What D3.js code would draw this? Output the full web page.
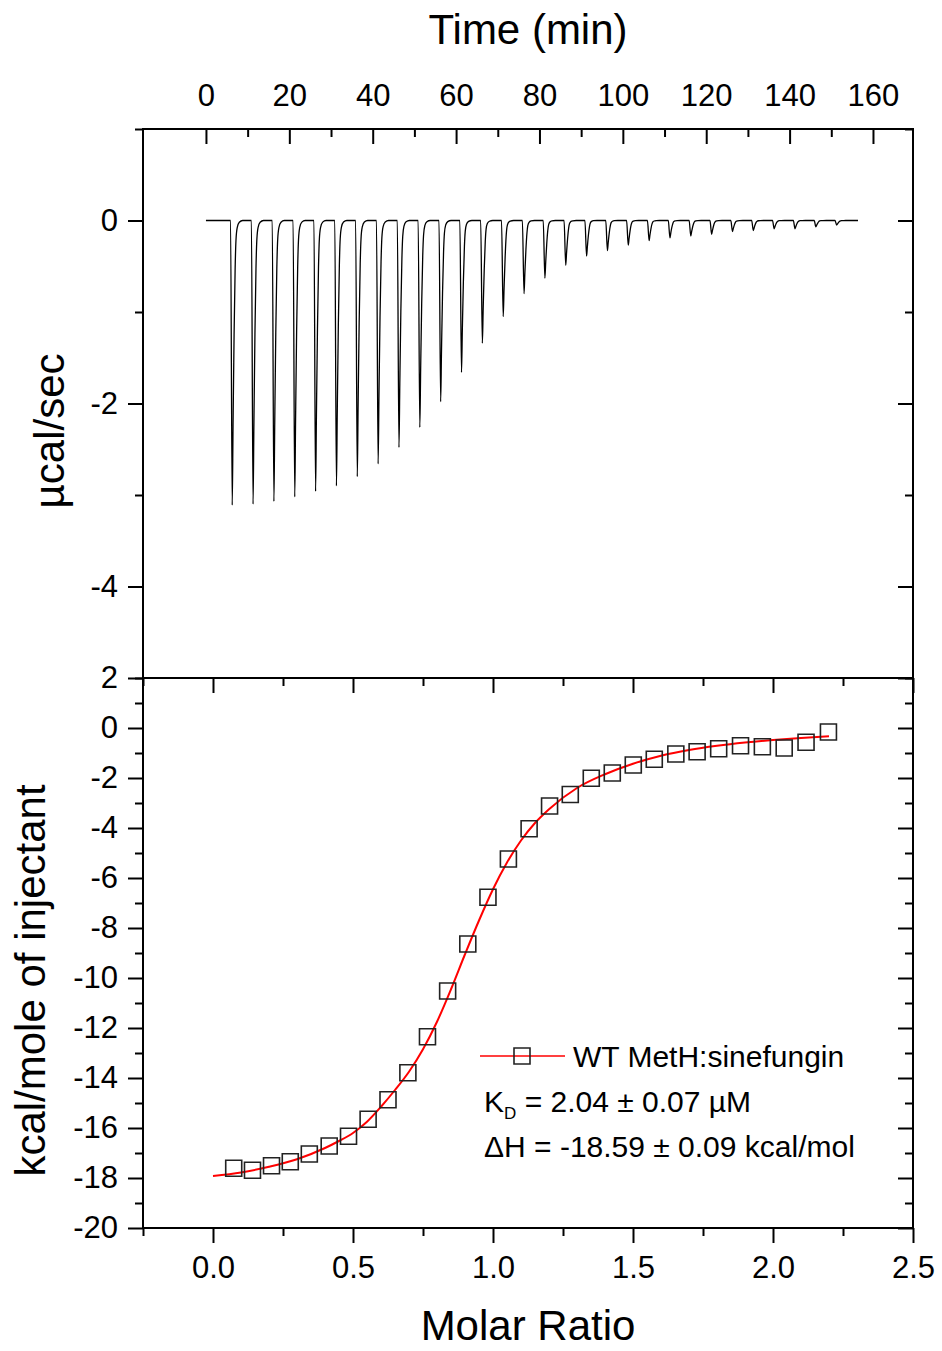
<!DOCTYPE html>
<html>
<head>
<meta charset="utf-8">
<script src="https://cdn.jsdelivr.net/npm/d3@7"></script>
<style>
  body { margin: 0; background: #fff; }
  text { font-family: "Liberation Sans", Arial, sans-serif; fill: #000; }
</style>
</head>
<body>
<script>
// ITC run: raw heat trace on top, integrated heats + fit below

var width = 942;
var height = 1351;

// raw thermogram (top panel)
var injTimes = [6.3, 11.3, 16.3, 21.3, 26.3, 31.3, 36.3, 41.3, 46.3, 51.3,
                56.3, 61.3, 66.3, 71.3, 76.3, 81.3, 86.3, 91.3, 96.3, 101.3,
                106.3, 111.3, 116.3, 121.3, 126.3, 131.3, 136.3, 141.3, 146.3, 151.3];
var peakMin = [-3.11, -3.10, -3.07, -3.02, -2.96, -2.90, -2.80, -2.66, -2.48, -2.26,
               -1.98, -1.66, -1.34, -1.05, -0.80, -0.63, -0.49, -0.39, -0.33, -0.27,
               -0.22, -0.19, -0.17, -0.15, -0.12, -0.11, -0.09, -0.09, -0.07, -0.05];
var runStart = 0;
var runEnd = 156.4;
// shape of one peak (min after injection, fraction of depth)
var peakShapeT = [-0.4, 0, 0.2, 0.45, 0.7, 0.9, 1.2, 1.7, 2.5];
var peakShapeF = [0, 1, 0.72, 0.4, 0.17, 0.07, 0.025, 0.006, 0];

// integrated heats (bottom panel)
var molarRatio = [0.074, 0.141, 0.209, 0.276, 0.344, 0.415, 0.484, 0.554, 0.625, 0.696,
                  0.766, 0.838, 0.910, 0.982, 1.055, 1.129, 1.202, 1.276, 1.351, 1.426,
                  1.501, 1.576, 1.653, 1.729, 1.806, 1.884, 1.962, 2.040, 2.118, 2.198];
var heat = [-17.61, -17.69, -17.51, -17.35, -17.04, -16.72, -16.33, -15.65, -14.87, -13.79,
            -12.35, -10.52, -8.64, -6.77, -5.24, -4.03, -3.12, -2.66, -2.01, -1.80,
            -1.48, -1.25, -1.04, -0.95, -0.83, -0.71, -0.75, -0.80, -0.57, -0.16];

// one-site fit curve
var fitRatio = [0.0, 0.1, 0.2, 0.3, 0.4, 0.45, 0.5, 0.55, 0.6, 0.65, 0.7, 0.75, 0.8, 0.85,
                0.9, 0.95, 1.0, 1.05, 1.1, 1.15, 1.2, 1.3, 1.4, 1.5, 1.6, 1.7, 1.8, 1.9,
                2.0, 2.1, 2.2];
var fitHeat = [-17.92, -17.78, -17.55, -17.25, -16.80, -16.52, -16.20, -15.75, -15.15, -14.48,
               -13.75, -12.85, -11.75, -10.45, -9.05, -7.70, -6.45, -5.38, -4.50, -3.80,
               -3.25, -2.40, -1.85, -1.43, -1.11, -0.88, -0.71, -0.58, -0.48, -0.40, -0.33];

// ticks
var timeMajor = [0, 20, 40, 60, 80, 100, 120, 140, 160];
var timeMinor = [10, 30, 50, 70, 90, 110, 130, 150];
var powerMajor = [-4, -2, 0];
var powerMinor = [-5, -3, -1, 1];
var ratioMajor = [0.0, 0.5, 1.0, 1.5, 2.0, 2.5];
var ratioMinor = [-0.25, 0.25, 0.75, 1.25, 1.75, 2.25];
var heatMajor = [-20, -18, -16, -14, -12, -10, -8, -6, -4, -2, 0, 2];
var heatMinor = [-19, -17, -15, -13, -11, -9, -7, -5, -3, -1, 1];

var seriesName = "WT MetH:sinefungin";

var left = 143, right = 913;
var topY = 129, midY = 678, botY = 1228;
var majorLen = 15, minorLen = 8;
var tickFont = 31;
var titleFont = 42;

var svg = d3.select("body").append("svg")
    .attr("width", width)
    .attr("height", height);

var xTime = d3.scaleLinear().domain([-15.1, 169.6]).range([left, right]);
var yPower = d3.scaleLinear().domain([-5, 1]).range([midY, topY]);
var xRatio = d3.scaleLinear().domain([-0.25, 2.5]).range([left, right]);
var yHeat = d3.scaleLinear().domain([-20, 2]).range([botY, midY]);

var plain = function(d) { return String(d); };

// helper: draw an axis, strip its domain path, style it
var drawAxis = function(axis, tx, ty) {
  var g = svg.append("g")
    .attr("transform", "translate(" + tx + "," + ty + ")")
    .call(axis);
  g.select(".domain").remove();
  g.selectAll("line").attr("stroke", "#000").attr("stroke-width", 2);
  g.selectAll("text")
    .attr("font-size", tickFont)
    .attr("font-family", "Liberation Sans, Arial, sans-serif")
    .attr("fill", "#000");
  return g;
};

// ---------- top panel ----------
// time axis on top, ticks pointing in
drawAxis(d3.axisTop(xTime).tickValues(timeMajor).tickFormat(plain)
  .tickSize(-majorLen).tickPadding(23), 0, topY);
drawAxis(d3.axisTop(xTime).tickValues(timeMinor).tickFormat("")
  .tickSize(-minorLen), 0, topY);

drawAxis(d3.axisLeft(yPower).tickValues(powerMajor).tickFormat(plain)
  .tickSize(majorLen).tickPadding(10), left, 0);
drawAxis(d3.axisLeft(yPower).tickValues(powerMinor).tickFormat("")
  .tickSize(minorLen), left, 0);
drawAxis(d3.axisRight(yPower).tickValues(powerMajor).tickFormat("")
  .tickSize(-majorLen), right, 0);
drawAxis(d3.axisRight(yPower).tickValues(powerMinor).tickFormat("")
  .tickSize(-minorLen), right, 0);

// build the trace from baseline + one shaped dip per injection
var trace = [[runStart, 0]];
injTimes.forEach(function(t, i) {
  peakShapeT.forEach(function(dt, j) {
    trace.push([t + dt, peakMin[i] * peakShapeF[j]]);
  });
});
trace.push([runEnd, 0]);

svg.append("path")
  .datum(trace)
  .attr("fill", "none")
  .attr("stroke", "#000")
  .attr("stroke-width", 1.3)
  .attr("d", d3.line()
    .x(function(d) { return xTime(d[0]); })
    .y(function(d) { return yPower(d[1]); })
    .curve(d3.curveMonotoneX));

// ---------- bottom panel ----------
drawAxis(d3.axisBottom(xRatio).tickValues(ratioMajor).tickFormat(d3.format(".1f"))
  .tickSize(majorLen).tickPadding(13), 0, botY);
drawAxis(d3.axisBottom(xRatio).tickValues(ratioMinor).tickFormat("")
  .tickSize(minorLen), 0, botY);
drawAxis(d3.axisTop(xRatio).tickValues(ratioMajor).tickFormat("")
  .tickSize(-majorLen), 0, midY);
drawAxis(d3.axisTop(xRatio).tickValues(ratioMinor).tickFormat("")
  .tickSize(-minorLen), 0, midY);

drawAxis(d3.axisLeft(yHeat).tickValues(heatMajor).tickFormat(plain)
  .tickSize(majorLen).tickPadding(10), left, 0);
drawAxis(d3.axisLeft(yHeat).tickValues(heatMinor).tickFormat("")
  .tickSize(minorLen), left, 0);
drawAxis(d3.axisRight(yHeat).tickValues(heatMajor).tickFormat("")
  .tickSize(-majorLen), right, 0);
drawAxis(d3.axisRight(yHeat).tickValues(heatMinor).tickFormat("")
  .tickSize(-minorLen), right, 0);

// fit line
svg.append("path")
  .datum(d3.zip(fitRatio, fitHeat))
  .attr("fill", "none")
  .attr("stroke", "#ff0000")
  .attr("stroke-width", 2)
  .attr("d", d3.line()
    .x(function(d) { return xRatio(d[0]); })
    .y(function(d) { return yHeat(d[1]); })
    .curve(d3.curveMonotoneX));

// data squares
var square = d3.symbol().type(d3.symbolSquare).size(256);
svg.selectAll("path.pt")
  .data(d3.zip(molarRatio, heat))
  .enter()
  .append("path")
  .attr("class", "pt")
  .attr("d", square)
  .attr("transform", function(d) { return "translate(" + xRatio(d[0]) + "," + yHeat(d[1]) + ")"; })
  .attr("fill", "none")
  .attr("stroke", "#222")
  .attr("stroke-width", 1.6);

// frames
svg.append("rect")
  .attr("x", left).attr("y", topY)
  .attr("width", right - left).attr("height", botY - topY)
  .attr("fill", "none").attr("stroke", "#000").attr("stroke-width", 2);
svg.append("line")
  .attr("x1", left).attr("x2", right).attr("y1", midY).attr("y2", midY)
  .attr("stroke", "#000").attr("stroke-width", 2);

// legend
svg.append("line")
  .attr("x1", 480).attr("x2", 565).attr("y1", 1056).attr("y2", 1056)
  .attr("stroke", "#ff0000").attr("stroke-width", 1.5);
svg.append("path")
  .attr("d", square)
  .attr("transform", "translate(522,1056)")
  .attr("fill", "none").attr("stroke", "#222").attr("stroke-width", 1.6);
svg.append("text")
  .attr("x", 573).attr("y", 1067)
  .attr("font-size", 30)
  .text(seriesName);

var kd = svg.append("text")
  .attr("x", 484).attr("y", 1112)
  .attr("font-size", 30);
kd.append("tspan").text("K");
kd.append("tspan").attr("font-size", 17).attr("dy", 7).text("D");
kd.append("tspan").attr("dy", -7).text(" = 2.04 \u00b1 0.07 \u00b5M");

svg.append("text")
  .attr("x", 484).attr("y", 1157)
  .attr("font-size", 30)
  .text("\u0394H = -18.59 \u00b1 0.09 kcal/mol");

// axis titles
svg.append("text")
  .attr("x", (left + right) / 2).attr("y", 44)
  .attr("text-anchor", "middle")
  .attr("font-size", titleFont)
  .text("Time (min)");

svg.append("text")
  .attr("x", (left + right) / 2).attr("y", 1340)
  .attr("text-anchor", "middle")
  .attr("font-size", titleFont)
  .text("Molar Ratio");

svg.append("text")
  .attr("transform", "translate(64," + yPower(-2.3) + ") rotate(-90)")
  .attr("text-anchor", "middle")
  .attr("font-size", titleFont)
  .text("\u00b5cal/sec");

svg.append("text")
  .attr("transform", "translate(45," + yHeat(-10.1) + ") rotate(-90)")
  .attr("text-anchor", "middle")
  .attr("font-size", titleFont)
  .text("kcal/mole of injectant");
</script>
</body>
</html>
